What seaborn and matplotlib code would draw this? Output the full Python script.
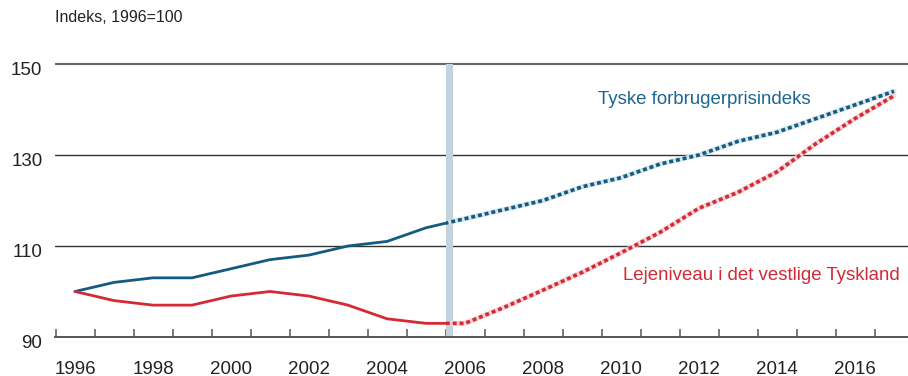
import matplotlib
matplotlib.use("Agg")
import matplotlib.pyplot as plt
import matplotlib.transforms as mtransforms
from matplotlib.patches import Rectangle
import numpy as np
import pandas as pd
import seaborn as sns

# Index values, 1996 = 100 (figures after 2005 are projections)
years = list(range(1996, 2018))
cpi = [100, 102, 103, 103, 105, 107, 108, 110, 111, 114, 116, 118,
       120, 123, 125, 128, 130, 133, 135, 138, 141, 144]
rent = [100, 98, 97, 97, 99, 100, 99, 97, 94, 93, 93, 96.5,
        100.3, 104.2, 108.5, 113, 118.3, 121.8, 126.3, 132.5, 138, 143]
cpi_label = "Tyske forbrugerprisindeks"
rent_label = "Lejeniveau i det vestlige Tyskland"
y_title = "Indeks, 1996=100"
y_ticks = [90, 110, 130, 150]
x_labels = list(range(1996, 2017, 2))
forecast_start = 2005.5

BLUE = "#135b80"
BLUE_TXT = "#1d6690"
RED = "#d32a36"
BAND = "#c3d3dd"
INK = "#222222"

df = pd.DataFrame({"year": years, "cpi": cpi, "rent": rent})

sns.set_theme(style="white")
plt.rcParams["font.family"] = ["Liberation Sans", "DejaVu Sans"]

fig = plt.figure(figsize=(9.08, 3.76), dpi=100)
ax = fig.add_axes([55 / 908, 39 / 376, 1 - 55 / 908, 277.6 / 376])

x0 = 1996 + (55 - 75) / 39
x1 = 1996 + (908 - 75) / 39
y_top = 151
ax.set_xlim(x0, x1)
ax.set_ylim(90, y_top)

# forecast divider, from the axis up to the top grid line
ax.axvspan(forecast_start, forecast_start + 0.18, ymin=0,
           ymax=(150 - 90) / (y_top - 90), color=BAND, lw=0, zorder=1)

# horizontal grid lines
for v in y_ticks[1:]:
    top = v == y_ticks[-1]
    ax.axhline(v, color="#666666" if top else "#333333",
               lw=1.5 if top else 1.0, zorder=0.5)


def split_line(col, color, halo):
    # solid part (history)
    sns.lineplot(data=df, x="year", y=col, ax=ax, color=color, lw=2.0,
                 zorder=3, legend=False)
    solid = ax.lines[-1]
    solid.set_clip_path(Rectangle((x0 - 1, 0), forecast_start - x0 + 1, 300,
                                  transform=ax.transData))
    # projection: pale backing line with short coloured dashes on top
    sns.lineplot(data=df, x="year", y=col, ax=ax, color=halo, lw=3.6,
                 zorder=3, legend=False)
    back = ax.lines[-1]
    sns.lineplot(data=df, x="year", y=col, ax=ax, color=color, lw=2.6,
                 zorder=4, legend=False)
    dash = ax.lines[-1]
    dash.set_dashes([1.1, 0.8])
    for ln in (back, dash):
        ln.set_clip_path(Rectangle((forecast_start, 0), 30, 300,
                                   transform=ax.transData))


split_line("cpi", BLUE, "#d6e4ec")
split_line("rent", RED, "#f6d3d5")

ax.text(1996 + (598 - 75) / 39, 142.1, cpi_label, color=BLUE_TXT,
        fontsize=13.4, va="center", ha="left")
ax.text(1996 + (622.7 - 75) / 39, 103.6, rent_label, color=RED,
        fontsize=13.4, va="center", ha="left")

fig.text(55 / 908, 1 - 18 / 376, y_title, fontsize=11.5, color=INK,
         va="center", ha="left")

# axes styling
for s in ("top", "right", "left"):
    ax.spines[s].set_visible(False)
ax.spines["bottom"].set_color("#555555")
ax.spines["bottom"].set_linewidth(1.4)

ax.set_yticks(y_ticks)
ax.set_yticklabels([str(v) for v in y_ticks])
ax.tick_params(axis="y", length=0, pad=9, labelsize=13.5, labelcolor=INK)
off = mtransforms.ScaledTranslation(0, -3 / 72, fig.dpi_scale_trans)
for lab in ax.get_yticklabels():
    lab.set_transform(lab.get_transform() + off)

ax.set_xticks(x_labels)
ax.set_xticklabels([str(v) for v in x_labels])
ax.set_xticks(np.arange(1995.5, 2017, 1.0), minor=True)
ax.tick_params(axis="x", which="major", length=0, pad=17, labelsize=13.5,
               labelcolor=INK)
ax.tick_params(axis="x", which="minor", direction="in", length=5.5,
               width=1.1, color="#555555", bottom=True)
ax.set_xlabel("")
ax.set_ylabel("")

fig.savefig("out.png", dpi=100)
